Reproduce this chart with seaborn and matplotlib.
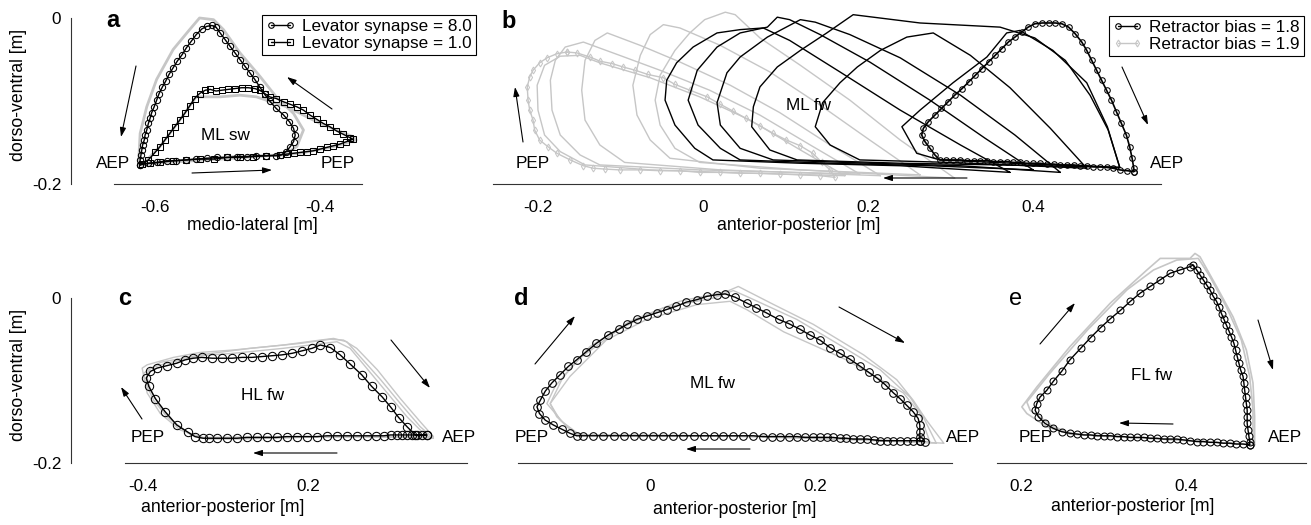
import matplotlib
matplotlib.use('Agg')
import matplotlib.pyplot as plt
from matplotlib.lines import Line2D
import seaborn as sns

# ---------------- panel a : ML swing, levator synapse ----------------
a_lev8_x = [-0.618, -0.618, -0.617, -0.616, -0.615, -0.613, -0.612, -0.610, -0.608, -0.606, -0.604, -0.601,
            -0.598, -0.595, -0.591, -0.587, -0.583, -0.578, -0.573, -0.567, -0.562, -0.556, -0.550, -0.543,
            -0.537, -0.531, -0.526, -0.521, -0.515, -0.509, -0.503, -0.497, -0.491, -0.485, -0.479, -0.473,
            -0.467, -0.461, -0.453, -0.444, -0.437, -0.432, -0.430, -0.432, -0.436, -0.441, -0.447, -0.453,
            -0.465, -0.477, -0.489, -0.501, -0.513, -0.525, -0.537, -0.550, -0.562, -0.574, -0.586, -0.598,
            -0.608, -0.618]
a_lev8_y = [-0.177, -0.171, -0.165, -0.159, -0.153, -0.147, -0.141, -0.135, -0.127, -0.121, -0.114, -0.107,
            -0.099, -0.091, -0.083, -0.076, -0.068, -0.060, -0.052, -0.044, -0.036, -0.028, -0.020, -0.013,
            -0.010, -0.009, -0.011, -0.018, -0.026, -0.034, -0.042, -0.050, -0.058, -0.066, -0.074, -0.083,
            -0.092, -0.100, -0.109, -0.117, -0.125, -0.133, -0.141, -0.149, -0.155, -0.161, -0.165, -0.166,
            -0.166, -0.166, -0.167, -0.167, -0.168, -0.168, -0.169, -0.170, -0.171, -0.172, -0.172, -0.174,
            -0.175, -0.177]
a_lev1_x = [-0.616, -0.608, -0.600, -0.594, -0.588, -0.582, -0.576, -0.570, -0.564, -0.558, -0.552, -0.546,
            -0.539, -0.533, -0.526, -0.519, -0.511, -0.503, -0.495, -0.487, -0.479, -0.473, -0.467, -0.461,
            -0.453, -0.444, -0.436, -0.428, -0.420, -0.412, -0.404, -0.396, -0.388, -0.380, -0.372, -0.364,
            -0.360, -0.368, -0.376, -0.384, -0.392, -0.400, -0.408, -0.416, -0.424, -0.432, -0.440, -0.449,
            -0.465, -0.481, -0.497, -0.513, -0.529, -0.546, -0.562, -0.578, -0.594, -0.606, -0.616]
a_lev1_y = [-0.176, -0.171, -0.162, -0.155, -0.147, -0.139, -0.131, -0.123, -0.115, -0.106, -0.097, -0.091,
            -0.087, -0.086, -0.088, -0.087, -0.086, -0.085, -0.084, -0.084, -0.085, -0.087, -0.091, -0.095,
            -0.097, -0.101, -0.104, -0.107, -0.111, -0.117, -0.122, -0.127, -0.131, -0.136, -0.140, -0.144,
            -0.146, -0.149, -0.152, -0.154, -0.156, -0.158, -0.160, -0.161, -0.162, -0.163, -0.164, -0.165,
            -0.166, -0.167, -0.168, -0.168, -0.170, -0.170, -0.171, -0.172, -0.174, -0.175, -0.176]
a_gray1_x = [-0.620, -0.618, -0.610, -0.598, -0.578, -0.558, -0.546, -0.529, -0.517, -0.497, -0.473, -0.453,
             -0.432, -0.420, -0.428, -0.444, -0.505, -0.586, -0.620]
a_gray1_y = [-0.177, -0.139, -0.107, -0.074, -0.038, -0.014, 0.000, -0.002, -0.014, -0.042, -0.070, -0.095,
             -0.115, -0.135, -0.155, -0.165, -0.167, -0.173, -0.177]
a_gray2_x = [-0.616, -0.594, -0.570, -0.550, -0.537, -0.521, -0.497, -0.477, -0.465, -0.440, -0.400, -0.360,
             -0.356, -0.384, -0.424, -0.505, -0.586, -0.616]
a_gray2_y = [-0.177, -0.155, -0.123, -0.095, -0.095, -0.095, -0.093, -0.095, -0.099, -0.107, -0.127, -0.143,
             -0.147, -0.155, -0.163, -0.169, -0.174, -0.177]

# ---------------- panel b : ML forward, retractor bias ----------------
b_bias18_x = [0.522, 0.514, 0.505, 0.497, 0.489, 0.481, 0.473, 0.465, 0.457, 0.449, 0.441, 0.433, 0.425, 0.417,
              0.408, 0.400, 0.392, 0.384, 0.376, 0.368, 0.360, 0.352, 0.344, 0.336, 0.328, 0.320, 0.312, 0.303,
              0.295, 0.287, 0.281, 0.275, 0.269, 0.265, 0.267, 0.273, 0.281, 0.289, 0.297, 0.305, 0.314, 0.322,
              0.330, 0.338, 0.346, 0.354, 0.362, 0.370, 0.378, 0.386, 0.394, 0.402, 0.411, 0.419, 0.427, 0.435,
              0.443, 0.451, 0.459, 0.465, 0.471, 0.477, 0.483, 0.489, 0.495, 0.501, 0.507, 0.513, 0.517, 0.520,
              0.522, 0.522]
b_bias18_y = [-0.185, -0.184, -0.183, -0.181, -0.180, -0.179, -0.179, -0.178, -0.178, -0.177, -0.177, -0.177,
              -0.176, -0.176, -0.175, -0.175, -0.175, -0.174, -0.174, -0.173, -0.173, -0.173, -0.172, -0.172,
              -0.172, -0.172, -0.171, -0.171, -0.171, -0.171, -0.165, -0.157, -0.149, -0.141, -0.133, -0.125,
              -0.117, -0.109, -0.101, -0.093, -0.085, -0.077, -0.069, -0.061, -0.053, -0.045, -0.037, -0.029,
              -0.023, -0.017, -0.011, -0.007, -0.006, -0.006, -0.006, -0.007, -0.011, -0.019, -0.029, -0.039,
              -0.051, -0.063, -0.075, -0.087, -0.099, -0.113, -0.127, -0.141, -0.155, -0.169, -0.181, -0.185]
b_k1_x = [0.372, 0.312, 0.239, 0.166, 0.105, 0.073, 0.045, 0.017, -0.012, -0.032, -0.044, -0.046, -0.034,
          -0.010, 0.012, 0.118, 0.239, 0.372]
b_k1_y = [-0.186, -0.153, -0.111, -0.065, -0.027, -0.012, -0.014, -0.018, -0.035, -0.054, -0.075, -0.099,
          -0.129, -0.157, -0.171, -0.175, -0.178, -0.186]
b_k2_x = [0.400, 0.342, 0.275, 0.202, 0.142, 0.105, 0.090, 0.078, 0.045, 0.017, -0.007, -0.018, -0.006,
          0.021, 0.045, 0.154, 0.275, 0.400]
b_k2_y = [-0.183, -0.145, -0.099, -0.053, -0.020, -0.002, 0.001, -0.011, -0.018, -0.035, -0.063, -0.099,
          -0.129, -0.157, -0.171, -0.175, -0.178, -0.183]
b_k3_x = [0.433, 0.378, 0.312, 0.239, 0.178, 0.136, 0.118, 0.078, 0.045, 0.029, 0.017, 0.021, 0.045, 0.085,
          0.202, 0.312, 0.433]
b_k3_y = [-0.186, -0.141, -0.093, -0.048, -0.020, -0.005, -0.002, -0.023, -0.047, -0.066, -0.102, -0.129,
          -0.157, -0.171, -0.175, -0.178, -0.186]
b_k4_x = [0.505, 0.491, 0.469, 0.439, 0.402, 0.360, 0.263, 0.182, 0.150, 0.118, 0.090, 0.069, 0.061, 0.059,
          0.081, 0.114, 0.239, 0.360, 0.505]
b_k4_y = [-0.180, -0.135, -0.093, -0.051, -0.024, -0.011, -0.006, 0.004, -0.018, -0.039, -0.059, -0.083,
          -0.107, -0.131, -0.159, -0.171, -0.175, -0.177, -0.180]
b_k5_x = [0.465, 0.421, 0.372, 0.324, 0.279, 0.247, 0.215, 0.187, 0.166, 0.145, 0.136, 0.154, 0.190, 0.299,
          0.465]
b_k5_y = [-0.181, -0.133, -0.084, -0.045, -0.018, -0.023, -0.039, -0.059, -0.078, -0.102, -0.131, -0.153,
          -0.171, -0.174, -0.181]
b_k6_x = [0.505, 0.490, 0.465, 0.424, 0.384, 0.368, 0.344, 0.303, 0.263, 0.241, 0.259, 0.287, 0.396, 0.505]
b_k6_y = [-0.180, -0.131, -0.078, -0.039, -0.015, -0.018, -0.047, -0.078, -0.111, -0.131, -0.163, -0.171,
          -0.176, -0.180]
b_bias19_x = [-0.165, -0.153, -0.137, -0.125, -0.110, -0.097, -0.082, -0.067, -0.048, -0.034, -0.016, 0.005,
              0.021, 0.036, 0.052, 0.069, 0.085, 0.101, 0.118, 0.133, 0.144, 0.154, 0.160, 0.142, 0.118, 0.093,
              0.069, 0.045, 0.021, -0.004, -0.028, -0.052, -0.076, -0.101, -0.119, -0.133, -0.145, -0.161,
              -0.177, -0.188, -0.198, -0.204, -0.206, -0.210, -0.212, -0.213, -0.210, -0.206, -0.198, -0.189,
              -0.177, -0.165]
b_bias19_y = [-0.041, -0.042, -0.047, -0.052, -0.055, -0.059, -0.063, -0.068, -0.072, -0.080, -0.087, -0.095,
              -0.104, -0.112, -0.121, -0.130, -0.139, -0.147, -0.154, -0.163, -0.174, -0.183, -0.192, -0.190,
              -0.189, -0.188, -0.187, -0.187, -0.186, -0.186, -0.184, -0.184, -0.183, -0.183, -0.182, -0.181,
              -0.178, -0.171, -0.163, -0.155, -0.147, -0.135, -0.123, -0.111, -0.099, -0.083, -0.071, -0.063,
              -0.054, -0.048, -0.043, -0.041]
b_g1_x = [0.172, 0.118, 0.057, -0.004, -0.064, -0.125, -0.149, -0.173, -0.192, -0.201, -0.200, -0.192, -0.173,
          -0.143, -0.064, 0.057, 0.172]
b_g1_y = [-0.190, -0.159, -0.123, -0.095, -0.072, -0.054, -0.045, -0.046, -0.057, -0.081, -0.111, -0.141,
          -0.161, -0.177, -0.183, -0.187, -0.190]
b_g2_x = [0.190, 0.130, 0.069, 0.008, -0.052, -0.101, -0.145, -0.167, -0.179, -0.185, -0.183, -0.173, -0.149,
          -0.125, -0.004, 0.190]
b_g2_y = [-0.188, -0.153, -0.117, -0.087, -0.063, -0.045, -0.029, -0.035, -0.051, -0.075, -0.111, -0.141,
          -0.165, -0.177, -0.183, -0.188]
b_g3_x = [0.215, 0.154, 0.093, 0.033, -0.028, -0.076, -0.116, -0.131, -0.143, -0.147, -0.143, -0.125, -0.095,
          0.021, 0.215]
b_g3_y = [-0.190, -0.153, -0.114, -0.081, -0.053, -0.033, -0.018, -0.027, -0.051, -0.087, -0.123, -0.153,
          -0.174, -0.183, -0.190]
b_g4_x = [0.263, 0.202, 0.142, 0.081, 0.021, -0.028, -0.048, -0.064, -0.076, -0.085, -0.080, -0.064, -0.040,
          0.069, 0.263]
b_g4_y = [-0.189, -0.147, -0.105, -0.065, -0.033, -0.012, -0.008, -0.020, -0.045, -0.081, -0.117, -0.147,
          -0.169, -0.181, -0.189]
b_g5_x = [0.305, 0.239, 0.178, 0.118, 0.069, 0.039, 0.027, 0.002, -0.016, -0.034, -0.052, -0.058, -0.052,
          -0.034, -0.004, 0.118, 0.305]
b_g5_y = [-0.193, -0.147, -0.099, -0.057, -0.024, 0.004, 0.007, -0.002, -0.018, -0.039, -0.069, -0.099,
          -0.129, -0.157, -0.174, -0.183, -0.193]

# ---------------- panel c : HL forward ----------------
c_hl_x = [-0.056, -0.062, -0.068, -0.074, -0.080, -0.086, -0.092, -0.100, -0.108, -0.118, -0.129, -0.141,
          -0.153, -0.165, -0.177, -0.189, -0.201, -0.213, -0.226, -0.238, -0.250, -0.262, -0.274, -0.286,
          -0.298, -0.310, -0.320, -0.327, -0.337, -0.345, -0.359, -0.373, -0.385, -0.393, -0.396, -0.391,
          -0.383, -0.371, -0.359, -0.349, -0.339, -0.329, -0.316, -0.304, -0.292, -0.280, -0.268, -0.256,
          -0.244, -0.232, -0.219, -0.207, -0.195, -0.185, -0.173, -0.161, -0.149, -0.135, -0.123, -0.110,
          -0.100, -0.090, -0.080, -0.070, -0.056]
c_hl_y = [-0.166, -0.166, -0.166, -0.166, -0.166, -0.166, -0.166, -0.166, -0.167, -0.167, -0.167, -0.167,
          -0.167, -0.167, -0.167, -0.168, -0.168, -0.168, -0.168, -0.169, -0.169, -0.169, -0.169, -0.170,
          -0.170, -0.170, -0.170, -0.170, -0.168, -0.163, -0.154, -0.138, -0.122, -0.107, -0.097, -0.089,
          -0.085, -0.082, -0.079, -0.075, -0.073, -0.072, -0.073, -0.073, -0.073, -0.072, -0.072, -0.071,
          -0.070, -0.069, -0.067, -0.064, -0.061, -0.057, -0.060, -0.069, -0.080, -0.093, -0.107, -0.120,
          -0.132, -0.145, -0.156, -0.166, -0.166]
c_g1_x = [-0.048, -0.129, -0.209, -0.290, -0.331, -0.347, -0.371, -0.387, -0.398, -0.401, -0.395, -0.363,
          -0.331, -0.290, -0.230, -0.185, -0.169, -0.153, -0.137, -0.112, -0.088, -0.064, -0.048]
c_g1_y = [-0.170, -0.168, -0.169, -0.171, -0.170, -0.163, -0.144, -0.124, -0.101, -0.085, -0.081, -0.072,
          -0.066, -0.063, -0.057, -0.051, -0.049, -0.053, -0.071, -0.099, -0.128, -0.156, -0.170]
c_g2_x = [-0.052, -0.169, -0.270, -0.322, -0.343, -0.363, -0.379, -0.391, -0.396, -0.391, -0.371, -0.331,
          -0.290, -0.230, -0.189, -0.165, -0.149, -0.129, -0.104, -0.080, -0.060, -0.052]
c_g2_y = [-0.169, -0.168, -0.170, -0.171, -0.165, -0.150, -0.132, -0.111, -0.093, -0.085, -0.079, -0.070,
          -0.067, -0.061, -0.056, -0.053, -0.061, -0.085, -0.115, -0.144, -0.164, -0.169]
c_g3_x = [-0.048, -0.064, -0.088, -0.116, -0.141, -0.157, -0.173, -0.209, -0.270, -0.331, -0.379, -0.399,
          -0.395, -0.379, -0.355, -0.327, -0.209, -0.048]
c_g3_y = [-0.168, -0.150, -0.122, -0.087, -0.061, -0.051, -0.050, -0.055, -0.061, -0.069, -0.078, -0.091,
          -0.115, -0.140, -0.160, -0.169, -0.168, -0.168]

# ---------------- panel d : ML forward ----------------
d_ml_x = [0.333, 0.327, 0.319, 0.311, 0.303, 0.295, 0.287, 0.279, 0.271, 0.263, 0.255, 0.246, 0.238, 0.230,
          0.222, 0.214, 0.206, 0.198, 0.188, 0.178, 0.168, 0.158, 0.148, 0.137, 0.125, 0.113, 0.101, 0.089,
          0.077, 0.065, 0.053, 0.040, 0.028, 0.016, 0.004, -0.008, -0.020, -0.032, -0.044, -0.057, -0.069,
          -0.081, -0.089, -0.097, -0.107, -0.117, -0.127, -0.134, -0.137, -0.133, -0.127, -0.119, -0.109,
          -0.099, -0.089, -0.077, -0.065, -0.051, -0.038, -0.028, -0.016, -0.004, 0.008, 0.020, 0.032, 0.044,
          0.057, 0.069, 0.081, 0.091, 0.103, 0.117, 0.129, 0.141, 0.156, 0.168, 0.182, 0.194, 0.206, 0.218,
          0.230, 0.242, 0.255, 0.265, 0.275, 0.285, 0.295, 0.303, 0.311, 0.319, 0.325, 0.327, 0.327, 0.327,
          0.327]
d_ml_y = [-0.174, -0.173, -0.173, -0.173, -0.173, -0.173, -0.173, -0.173, -0.172, -0.171, -0.171, -0.171,
          -0.170, -0.170, -0.169, -0.169, -0.169, -0.169, -0.169, -0.168, -0.168, -0.168, -0.168, -0.168,
          -0.167, -0.167, -0.167, -0.167, -0.167, -0.167, -0.167, -0.167, -0.167, -0.167, -0.167, -0.167,
          -0.167, -0.167, -0.167, -0.167, -0.167, -0.167, -0.167, -0.164, -0.159, -0.154, -0.148, -0.140,
          -0.132, -0.124, -0.113, -0.103, -0.093, -0.083, -0.075, -0.065, -0.055, -0.045, -0.038, -0.032,
          -0.026, -0.022, -0.018, -0.014, -0.010, -0.005, -0.002, 0.002, 0.004, 0.005, 0.001, -0.006, -0.012,
          -0.018, -0.026, -0.031, -0.038, -0.045, -0.051, -0.060, -0.067, -0.074, -0.083, -0.090, -0.097,
          -0.105, -0.115, -0.122, -0.130, -0.138, -0.146, -0.154, -0.162, -0.168, -0.173]
d_g1_x = [0.356, 0.335, 0.319, 0.299, 0.259, 0.198, 0.150, 0.107, 0.093, 0.036, -0.024, -0.073, -0.105, -0.121,
          -0.113, -0.089, 0.036, 0.198, 0.356]
d_g1_y = [-0.176, -0.148, -0.124, -0.099, -0.069, -0.032, -0.008, 0.014, 0.008, -0.004, -0.028, -0.059, -0.095,
          -0.128, -0.144, -0.166, -0.167, -0.168, -0.176]
d_g2_x = [0.347, 0.331, 0.315, 0.279, 0.230, 0.178, 0.117, 0.101, 0.077, 0.016, -0.036, -0.085, -0.115, -0.125,
          -0.101, -0.085, 0.117, 0.347]
d_g2_y = [-0.176, -0.144, -0.120, -0.087, -0.057, -0.026, 0.002, 0.009, 0.000, -0.012, -0.037, -0.073, -0.107,
          -0.128, -0.156, -0.166, -0.167, -0.176]
d_g3_x = [0.339, 0.327, 0.307, 0.238, 0.162, 0.117, 0.097, 0.057, -0.004, -0.053, -0.097, -0.121, -0.109,
          -0.085, 0.077, 0.339]
d_g3_y = [-0.174, -0.140, -0.115, -0.075, -0.041, -0.014, -0.004, -0.008, -0.026, -0.051, -0.095, -0.128,
          -0.148, -0.166, -0.167, -0.174]

# ---------------- panel e : FL forward ----------------
e_fl_x = [0.476, 0.468, 0.460, 0.452, 0.444, 0.436, 0.428, 0.420, 0.412, 0.404, 0.396, 0.388, 0.380, 0.372,
          0.364, 0.356, 0.348, 0.340, 0.332, 0.324, 0.316, 0.308, 0.300, 0.292, 0.284, 0.276, 0.268, 0.259,
          0.249, 0.239, 0.229, 0.221, 0.217, 0.219, 0.223, 0.231, 0.239, 0.249, 0.259, 0.272, 0.284, 0.296,
          0.308, 0.320, 0.332, 0.344, 0.356, 0.368, 0.380, 0.392, 0.404, 0.408, 0.412, 0.416, 0.420, 0.424,
          0.428, 0.432, 0.436, 0.439, 0.442, 0.445, 0.448, 0.451, 0.454, 0.457, 0.459, 0.461, 0.463, 0.465,
          0.468, 0.469, 0.470, 0.471, 0.472, 0.473, 0.473, 0.473, 0.474, 0.475, 0.476, 0.476]
e_fl_y = [-0.178, -0.177, -0.177, -0.176, -0.176, -0.175, -0.175, -0.174, -0.174, -0.173, -0.172, -0.171,
          -0.171, -0.171, -0.170, -0.170, -0.169, -0.169, -0.169, -0.168, -0.168, -0.167, -0.167, -0.167,
          -0.166, -0.166, -0.165, -0.164, -0.162, -0.158, -0.152, -0.144, -0.136, -0.128, -0.120, -0.112,
          -0.101, -0.089, -0.075, -0.061, -0.048, -0.036, -0.025, -0.015, -0.004, 0.006, 0.014, 0.022, 0.030,
          0.034, 0.038, 0.040, 0.034, 0.028, 0.022, 0.016, 0.010, 0.002, -0.004, -0.011, -0.019, -0.026,
          -0.033, -0.040, -0.047, -0.055, -0.063, -0.071, -0.079, -0.087, -0.095, -0.103, -0.112, -0.120,
          -0.128, -0.136, -0.144, -0.152, -0.160, -0.167, -0.174, -0.178]
e_g1_x = [0.482, 0.482, 0.480, 0.472, 0.456, 0.436, 0.416, 0.410, 0.404, 0.368, 0.352, 0.308, 0.259, 0.219,
          0.201, 0.207, 0.231, 0.259, 0.368, 0.482]
e_g1_y = [-0.178, -0.144, -0.103, -0.063, -0.023, 0.014, 0.050, 0.054, 0.048, 0.048, 0.034, -0.006, -0.059,
          -0.108, -0.132, -0.140, -0.156, -0.165, -0.171, -0.178]
e_g2_x = [0.480, 0.480, 0.476, 0.466, 0.448, 0.428, 0.414, 0.388, 0.360, 0.328, 0.280, 0.235, 0.207, 0.211,
          0.239, 0.264, 0.408, 0.480]
e_g2_y = [-0.178, -0.136, -0.095, -0.051, -0.011, 0.026, 0.048, 0.046, 0.034, 0.010, -0.039, -0.091, -0.126,
          -0.136, -0.156, -0.165, -0.173, -0.178]

# labels
a_legend = ['Levator synapse = 8.0', 'Levator synapse = 1.0']
b_legend = ['Retractor bias = 1.8', 'Retractor bias = 1.9']

GRAY = '#c6c6c6'
W, H = 1311, 525
FS = 12.3

sns.set_style('white')
plt.rcParams['font.family'] = ['Liberation Sans', 'DejaVu Sans']
plt.rcParams['text.color'] = 'black'
plt.rcParams['axes.labelcolor'] = 'black'
plt.rcParams['xtick.color'] = 'black'
plt.rcParams['ytick.color'] = 'black'

fig = plt.figure(figsize=(W / 100, H / 100), dpi=100)


def add_panel(left, right, top, bottom):
    ax = fig.add_axes([left / W, 1 - bottom / H, (right - left) / W, (bottom - top) / H])
    ax.patch.set_alpha(0)
    return ax


def trace(ax, x, y, color='black', lw=1.0, marker=None, ms=5, mew=0.75):
    kw = dict(color=color, linewidth=lw, clip_on=False)
    if marker:
        kw.update(marker=marker, markersize=ms, markerfacecolor='none',
                  markeredgecolor=color, markeredgewidth=mew)
    sns.lineplot(x=x, y=y, ax=ax, sort=False, estimator=None, legend=False, **kw)


def style(ax, xlim, ticks, ticklabels, label, lab_x, lab_y, left_px=None):
    ax.set_xlim(xlim)
    ax.set_ylim(-0.2, 0)
    for s in ['top', 'right']:
        ax.spines[s].set_visible(False)
    ax.spines['bottom'].set_color('#333333')
    ax.spines['bottom'].set_linewidth(0.8)
    ax.set_xticks(ticks)
    ax.set_xticklabels(ticklabels, fontsize=FS)
    ax.tick_params(axis='x', direction='out', length=4.5, width=0.8, pad=7, color='#333333')
    ax.set_xlabel(label, fontsize=FS + 0.4)
    ax.xaxis.set_label_coords(lab_x, lab_y)
    if left_px is None:
        ax.spines['left'].set_visible(False)
        ax.set_yticks([])
    else:
        ax.spines['left'].set_position(('outward', left_px * 0.72))
        ax.spines['left'].set_bounds(-0.2, 0)
        ax.spines['left'].set_color('#333333')
        ax.spines['left'].set_linewidth(0.8)
        ax.set_yticks([-0.2, 0])
        ax.set_yticklabels(['-0.2', '0'], fontsize=FS)
        ax.tick_params(axis='y', direction='out', length=3, width=0.8, pad=4, color='#333333')
    ax.set_ylabel('')


# ---- a ----
ax_a = add_panel(114, 362, 18, 184)
for gx, gy in [(a_gray1_x, a_gray1_y), (a_gray2_x, a_gray2_y)]:
    trace(ax_a, gx, gy, color=GRAY, lw=2.0)
trace(ax_a, a_lev1_x, a_lev1_y, marker='s', ms=4)
trace(ax_a, a_lev8_x, a_lev8_y, marker='o', ms=4.5)
style(ax_a, (-0.6497, -0.349), [-0.6, -0.4], ['-0.6', '-0.4'], 'medio-lateral [m]', 0.556, -0.2, left_px=43)
ax_a.set_ylabel('dorso-ventral [m]', fontsize=FS + 0.4)
ax_a.yaxis.set_label_coords(-0.351, 0.536)
h_a = [Line2D([], [], color='k', lw=1, marker='o', ms=4, mfc='none', mec='k', mew=0.8),
       Line2D([], [], color='k', lw=1, marker='s', ms=3.8, mfc='none', mec='k', mew=0.8)]
leg = ax_a.legend(h_a, a_legend, loc='upper left', bbox_to_anchor=(262 / W, 1 - 15 / H),
                  bbox_transform=fig.transFigure, fancybox=False, edgecolor='black', framealpha=1,
                  fontsize=FS, numpoints=2, handlelength=1.7, handletextpad=0.4, borderpad=0.25,
                  labelspacing=0.1, borderaxespad=0)
leg.get_frame().set_linewidth(0.8)

# ---- b ----
ax_b = add_panel(493, 1161, 18, 184)
for gx, gy in [(b_g1_x, b_g1_y), (b_g2_x, b_g2_y), (b_g3_x, b_g3_y), (b_g4_x, b_g4_y), (b_g5_x, b_g5_y)]:
    trace(ax_b, gx, gy, color=GRAY, lw=1.0)
trace(ax_b, b_bias19_x, b_bias19_y, color=GRAY, lw=1.0, marker='d', ms=3.5)
for kx, ky in [(b_k1_x, b_k1_y), (b_k2_x, b_k2_y), (b_k3_x, b_k3_y), (b_k4_x, b_k4_y),
               (b_k5_x, b_k5_y), (b_k6_x, b_k6_y)]:
    trace(ax_b, kx, ky, color='black', lw=1.0)
trace(ax_b, b_bias18_x, b_bias18_y, marker='o', ms=4, lw=1.2)
style(ax_b, (-0.2545, 0.555), [-0.2, 0, 0.2, 0.4], ['-0.2', '0', '0.2', '0.4'],
      'anterior-posterior [m]', 0.457, -0.2)
h_b = [Line2D([], [], color='k', lw=1, marker='o', ms=4, mfc='none', mec='k', mew=0.8),
       Line2D([], [], color=GRAY, lw=1, marker='d', ms=3.5, mfc='none', mec=GRAY, mew=0.8)]
leg = ax_b.legend(h_b, b_legend, loc='upper left', bbox_to_anchor=(1109 / W, 1 - 16 / H),
                  bbox_transform=fig.transFigure, fancybox=False, edgecolor='black', framealpha=1,
                  fontsize=FS, numpoints=2, handlelength=1.7, handletextpad=0.4, borderpad=0.25,
                  labelspacing=0.1, borderaxespad=0)
leg.get_frame().set_linewidth(0.8)

# ---- c ----
ax_c = add_panel(125, 467, 298, 463)
for gx, gy in [(c_g1_x, c_g1_y), (c_g2_x, c_g2_y), (c_g3_x, c_g3_y)]:
    trace(ax_c, gx, gy, color=GRAY, lw=1.0)
trace(ax_c, c_hl_x, c_hl_y, marker='o', ms=6)
style(ax_c, (-0.4218, -0.0073), [-0.4, -0.2], ['-0.4', '0.2'], 'anterior-posterior [m]', 0.287, -0.22,
      left_px=54)
ax_c.set_ylabel('dorso-ventral [m]', fontsize=FS + 0.4)
ax_c.yaxis.set_label_coords(-0.287, 0.533)

# ---- d ----
ax_d = add_panel(518, 952, 298, 463)
for gx, gy in [(d_g1_x, d_g1_y), (d_g2_x, d_g2_y), (d_g3_x, d_g3_y)]:
    trace(ax_d, gx, gy, color=GRAY, lw=1.0)
trace(ax_d, d_ml_x, d_ml_y, marker='o', ms=5.5)
style(ax_d, (-0.16, 0.366), [0, 0.2], ['0', '0.2'], 'anterior-posterior [m]', 0.5, -0.23)

# ---- e ----
ax_e = add_panel(997, 1306, 298, 463)
for gx, gy in [(e_g1_x, e_g1_y), (e_g2_x, e_g2_y)]:
    trace(ax_e, gx, gy, color=GRAY, lw=1.2)
trace(ax_e, e_fl_x, e_fl_y, marker='o', ms=5)
style(ax_e, (0.171, 0.544), [0.2, 0.4], ['0.2', '0.4'], 'anterior-posterior [m]', 0.438, -0.21)

# ---- overlay with panel letters, annotations and arrows (pixel coords) ----
ov = fig.add_axes([0, 0, 1, 1])
ov.set_xlim(0, W)
ov.set_ylim(H, 0)
ov.axis('off')
ov.patch.set_alpha(0)

for letter, x, y, wt in [('a', 106, 27, 'bold'), ('b', 501, 28, 'bold'), ('c', 118, 305, 'bold'),
                         ('d', 514, 305, 'bold'), ('e', 1009, 305, 'normal')]:
    ov.text(x, y, letter, fontsize=17, fontweight=wt, ha='left', va='baseline')

notes = [('AEP', 113, 163), ('PEP', 338, 163), ('ML sw', 225, 135),
         ('PEP', 533, 163), ('AEP', 1167, 163), ('ML fw', 809, 105),
         ('PEP', 148, 438), ('AEP', 459, 438), ('HL fw', 263, 395),
         ('PEP', 532, 438), ('AEP', 963, 438), ('ML fw', 712, 384),
         ('PEP', 1036, 438), ('AEP', 1285, 438), ('FL fw', 1152, 376)]
for txt, x, y in notes:
    ov.text(x, y, txt, fontsize=FS, ha='center', va='center')

arrows = [((136, 66), (121, 137)), ((332, 109), (287, 77)), ((192, 173), (272, 170)),
          ((523, 142), (515, 87)), ((1122, 67), (1148, 125)), ((967, 178), (883, 178)),
          ((391, 340), (430, 388)), ((142, 419), (121, 387)), ((337, 453), (253, 453)),
          ((535, 364), (575, 316)), ((839, 307), (905, 343)), ((750, 449), (686, 449)),
          ((1040, 344), (1075, 303)), ((1258, 320), (1273, 370)), ((1173, 424), (1119, 423))]
for start, end in arrows:
    ov.annotate('', xy=end, xytext=start,
                arrowprops=dict(arrowstyle='-|>,head_length=0.55,head_width=0.18', lw=0.8,
                                color='black', shrinkA=0, shrinkB=0))

fig.savefig('out.png', dpi=100)
